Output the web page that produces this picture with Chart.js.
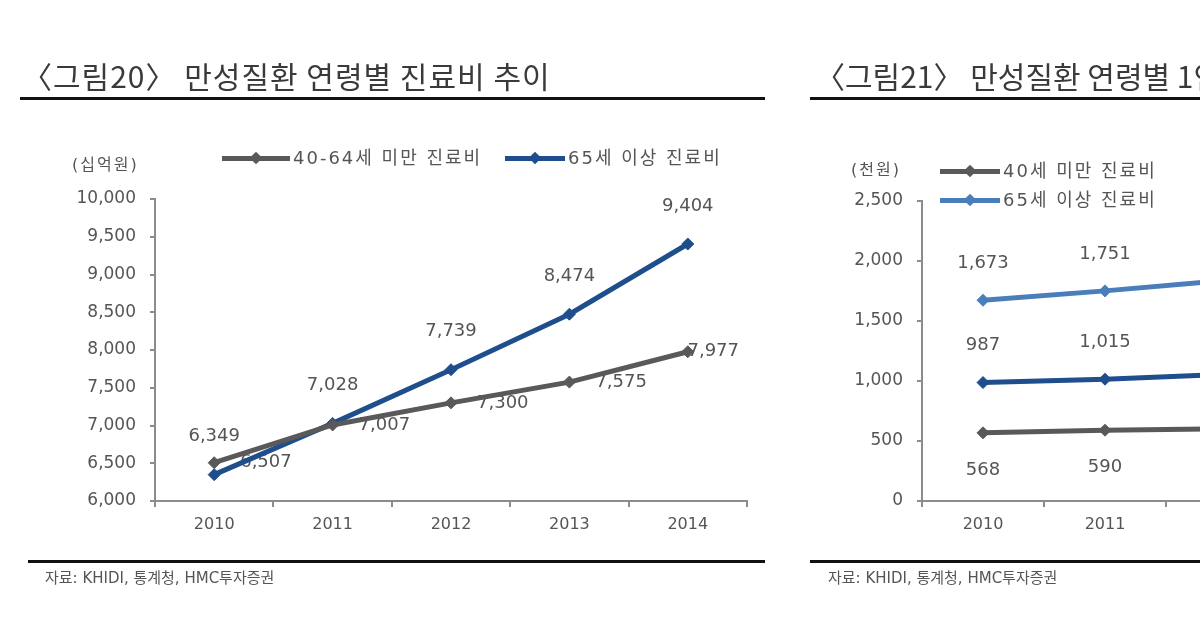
<!DOCTYPE html>
<html><head><meta charset="utf-8">
<script src="https://cdn.jsdelivr.net/npm/chart.js@4.4.1/dist/chart.umd.min.js"></script>
<style>
html,body{margin:0;padding:0;width:1200px;height:630px;overflow:hidden;background:#fff;}
body{position:relative;font-family:"DejaVu Sans","Noto Sans CJK KR",sans-serif;color:#555;}
.abs{position:absolute;white-space:nowrap;z-index:2;}
.title{font-family:"Noto Sans CJK KR",sans-serif;font-size:30px;color:#3a3a3a;line-height:1;}
.rule{position:absolute;height:3px;background:#111;z-index:2;}
.src{font-family:"DejaVu Sans","Noto Sans CJK KR",sans-serif;font-size:15px;color:#555;line-height:1;}
.unit{font-size:16px;letter-spacing:2px;line-height:1;color:#555;}
.leg{font-size:18px;line-height:1;display:flex;align-items:center;color:#555;letter-spacing:2px;}
.mk{position:relative;height:5px;margin-right:3px;}
.mk i{position:absolute;left:50%;top:50%;width:9px;height:9px;transform:translate(-50%,-50%) rotate(45deg);}
canvas{position:absolute;top:0;z-index:1;}
</style></head>
<body>
<div class="abs title" style="left:22px;top:60px;letter-spacing:1px;">〈그림20〉 만성질환 연령별 진료비 추이</div>
<div class="rule" style="left:20px;width:745px;top:97px;"></div>
<div class="abs title" style="left:815px;top:60px;">〈그림21〉 만성질환 연령별 1인당 진료비 추이</div>
<div class="rule" style="left:810px;width:400px;top:97px;"></div>

<div class="abs unit" style="left:72px;top:157px;">(십억원)</div>
<div class="abs leg" style="left:222px;top:149px;"><span class="mk" style="width:68px;background:#595959"><i style="background:#595959"></i></span><span id="lg1"></span></div>
<div class="abs leg" style="left:505px;top:149px;"><span class="mk" style="width:60px;background:#1f4e8c"><i style="background:#1f4e8c"></i></span><span id="lg2"></span></div>

<div class="abs unit" style="left:851px;top:162px;">(천원)</div>
<div class="abs leg" style="left:940px;top:162px;"><span class="mk" style="width:60px;background:#595959"><i style="background:#595959"></i></span><span id="rg1"></span></div>
<div class="abs leg" style="left:940px;top:191px;"><span class="mk" style="width:60px;background:#4a7ebb"><i style="background:#4a7ebb"></i></span><span id="rg2"></span></div>

<div class="rule" style="left:28px;width:737px;top:560px;"></div>
<div class="rule" style="left:810px;width:400px;top:560px;"></div>
<div class="abs src" style="left:45px;top:571px;">자료: KHIDI, 통계청, HMC투자증권</div>
<div class="abs src" style="left:828px;top:571px;">자료: KHIDI, 통계청, HMC투자증권</div>

<canvas id="left" width="780" height="630" style="left:0;"></canvas>
<canvas id="right" width="780" height="630" style="left:780px;"></canvas>

<script>
// ---- data ----
const years = ['2010', '2011', '2012', '2013', '2014'];

const leftSeriesNames = ['40-64세 미만 진료비', '65세 이상 진료비'];
const left4064 = [6507, 7007, 7300, 7575, 7977];
const left65 = [6349, 7028, 7739, 8474, 9404];
const leftTickMin = 6000, leftTickMax = 10000, leftTickStep = 500;

const rightSeriesNames = ['40세 미만 진료비', '65세 이상 진료비', '40-64세 진료비'];
const rightUnder40 = [568, 590, 603, null, null];
const right65 = [1673, 1751, 1840, null, null];
const right4064 = [987, 1015, 1057, null, null];
const rightTickMin = 0, rightTickMax = 2500, rightTickStep = 500;

document.getElementById('lg1').textContent = leftSeriesNames[0];
document.getElementById('lg2').textContent = leftSeriesNames[1];
document.getElementById('rg1').textContent = rightSeriesNames[0];
document.getElementById('rg2').textContent = rightSeriesNames[1];

const fmt = v => Number(v).toLocaleString('en-US');
const FONT = 'DejaVu Sans';

const valueLabels = {
  id: 'valueLabels',
  beforeDatasetsDraw(chart, args, opts) {
    const ctx = chart.ctx, area = chart.chartArea;
    ctx.save();
    ctx.font = opts.size + 'px "' + FONT + '"';
    ctx.fillStyle = opts.color;
    ctx.textBaseline = 'middle';
    ctx.textAlign = 'left';
    chart.data.datasets.forEach((ds, i) => {
      const meta = chart.getDatasetMeta(i);
      meta.data.forEach((pt, j) => {
        const v = ds.data[j];
        if (v == null) return;
        const txt = fmt(v);
        const w = ctx.measureText(txt).width;
        let x = pt.x, y = pt.y;
        if (ds.labelPos === 'above') { x -= w / 2; y -= opts.gap; }
        else if (ds.labelPos === 'below') { x -= w / 2; y += opts.gap; }
        else { x += opts.rightGap; if (x + w > area.right - 8) x = area.right - 8 - w; }
        ctx.fillText(txt, x, y);
      });
    });
    ctx.restore();
  }
};

function ds(label, data, color, pos) {
  return {
    label, data, labelPos: pos,
    borderColor: color, backgroundColor: color,
    borderWidth: 5, pointStyle: 'rectRot', pointRadius: 6,
    pointBackgroundColor: color, pointBorderColor: color, pointBorderWidth: 1,
    tension: 0, spanGaps: false
  };
}

function options(min, max, step, yWidth, padRight, top) {
  const axisColor = '#8c8c8c';
  return {
    responsive: false, animation: false, devicePixelRatio: 1,
    layout: { padding: { left: 0, right: padRight, top: top, bottom: 89 } },
    plugins: { legend: { display: false }, tooltip: { enabled: false },
      valueLabels: { size: 18, color: '#555', gap: 38, rightGap: 26 } },
    scales: {
      x: {
        type: 'category', offset: true,
        grid: { offset: true, drawOnChartArea: false, drawTicks: true, tickLength: 6, color: axisColor, lineWidth: 2 },
        border: { display: true, color: axisColor, width: 2 },
        ticks: { font: { family: FONT, size: 16 }, color: '#555', padding: 8, maxRotation: 0 },
        afterFit: s => { s.height = 40; }
      },
      y: {
        min, max,
        grid: { drawOnChartArea: false, drawTicks: true, tickLength: 5, color: axisColor, lineWidth: 2 },
        border: { display: true, color: axisColor, width: 2 },
        ticks: { stepSize: step, font: { family: FONT, size: 17 }, color: '#555', padding: 14, callback: v => fmt(v) },
        afterFit: s => { s.width = yWidth; }
      }
    }
  };
}

new Chart(document.getElementById('left'), {
  type: 'line',
  data: { labels: years, datasets: [
    ds(leftSeriesNames[0], left4064, '#595959', 'right'),
    ds(leftSeriesNames[1], left65, '#1f4e8c', 'above')
  ] },
  options: options(leftTickMin, leftTickMax, leftTickStep, 155, 33, 199),
  plugins: [valueLabels]
});

const ro = options(rightTickMin, rightTickMax, rightTickStep, 142, 28, 201);
ro.plugins.valueLabels.gap = 37;
new Chart(document.getElementById('right'), {
  type: 'line',
  data: { labels: years, datasets: [
    ds(rightSeriesNames[0], rightUnder40, '#595959', 'below'),
    ds(rightSeriesNames[1], right65, '#4a7ebb', 'above'),
    ds(rightSeriesNames[2], right4064, '#1f4e8c', 'above')
  ] },
  options: ro,
  plugins: [valueLabels]
});
</script>
</body></html>
